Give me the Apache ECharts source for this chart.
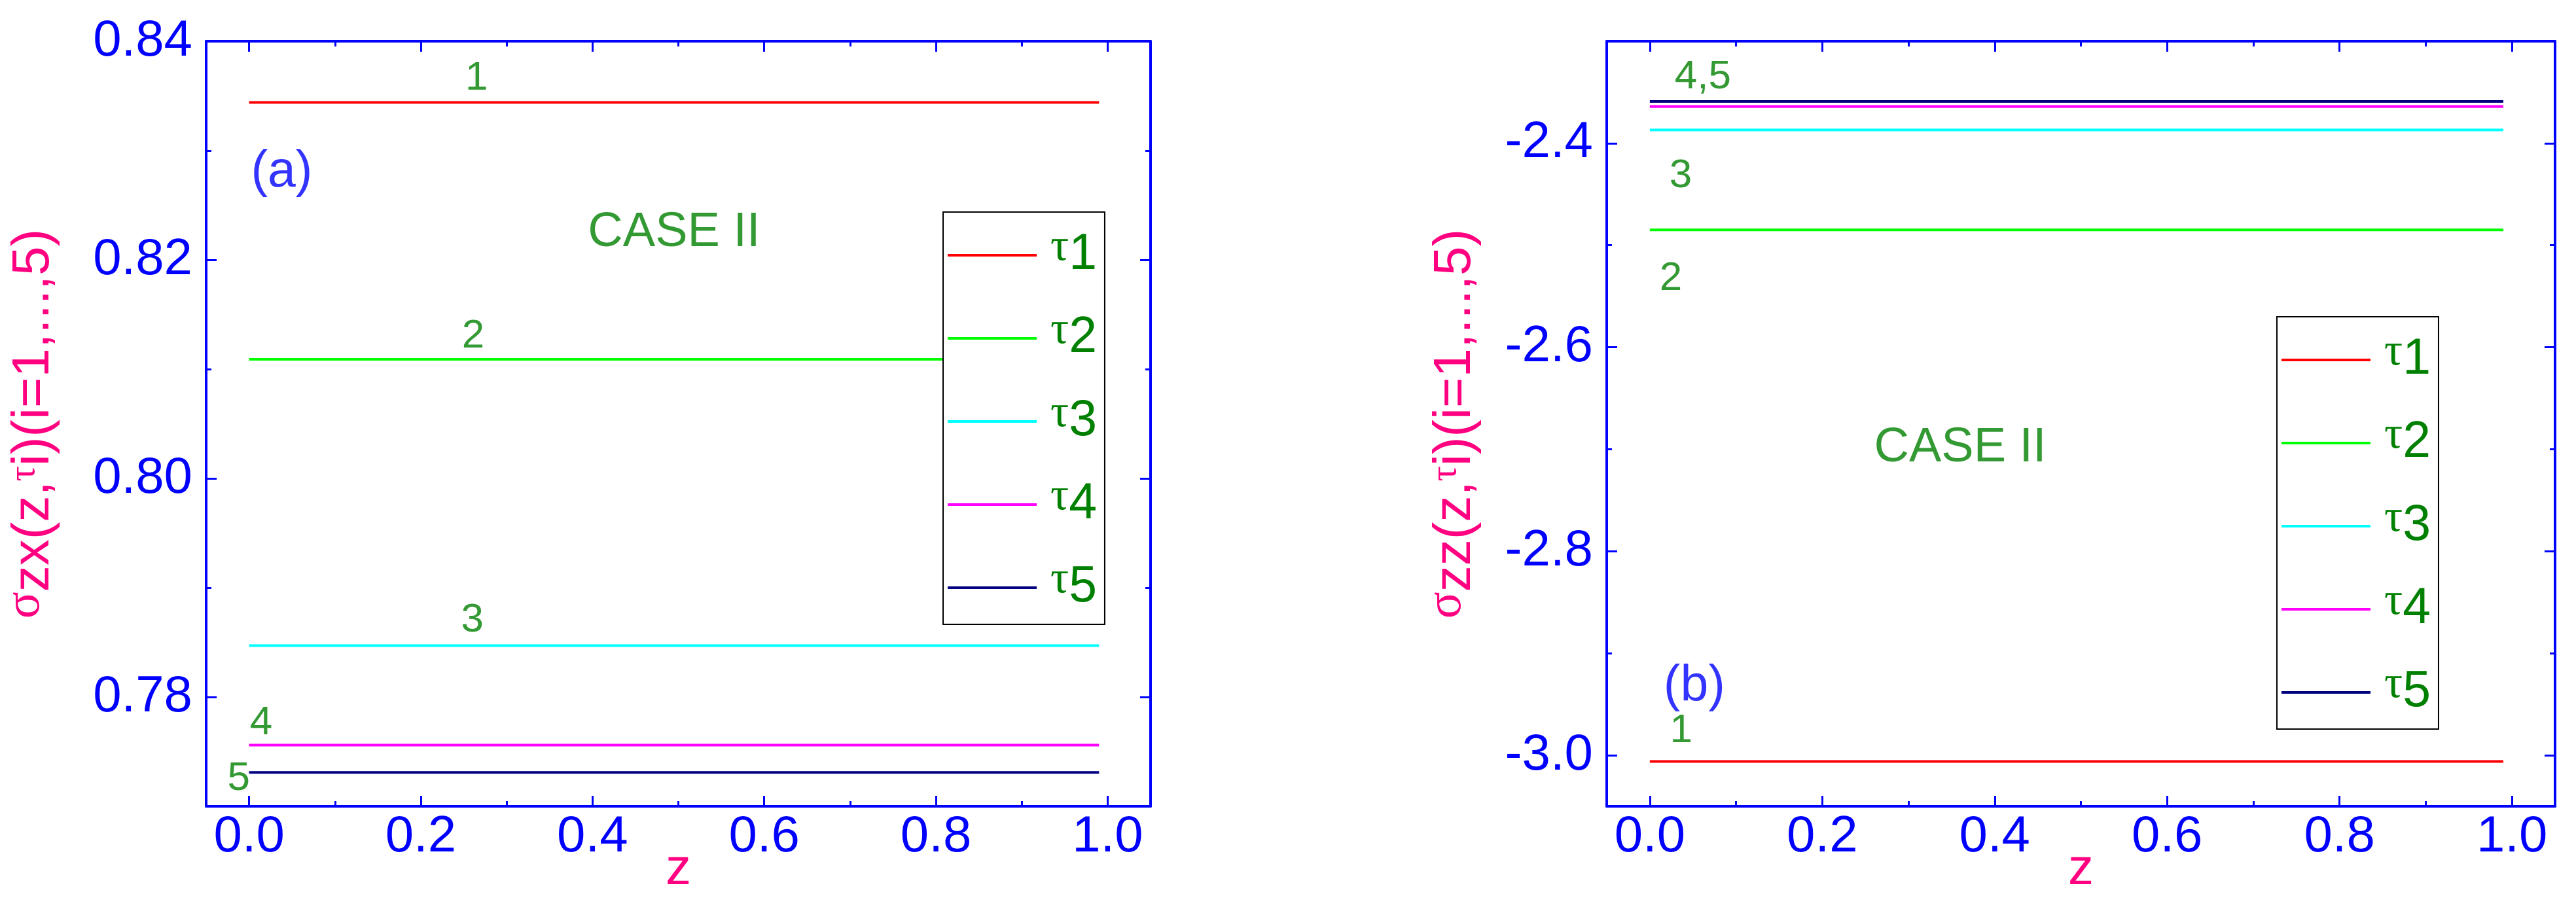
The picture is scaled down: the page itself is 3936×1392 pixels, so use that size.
<!DOCTYPE html>
<html>
<head>
<meta charset="utf-8">
<script src="https://cdn.jsdelivr.net/npm/echarts@6/dist/echarts.min.js"></script>
<style>
  html, body { margin: 0; padding: 0; background: #fff; }
  #main { width: 3936px; height: 1392px; }
</style>
</head>
<body>
<div id="main"></div>
<script>
// data
const seriesNames = ['τ1', 'τ2', 'τ3', 'τ4', 'τ5'];
const zPts = [0, 0.99];
const sigmaZX = [
  [0.8344, 0.8344],
  [0.8109, 0.8109],
  [0.7847, 0.7847],
  [0.7756, 0.7756],
  [0.7731, 0.7731]
];
const sigmaZZ = [
  [-3.006, -3.006],
  [-2.485, -2.485],
  [-2.387, -2.387],
  [-2.364, -2.364],
  [-2.359, -2.359]
];
// ticks
const xTicks = [0, 0.2, 0.4, 0.6, 0.8, 1.0];
const xMinor = [0.1, 0.3, 0.5, 0.7, 0.9];
const yTicksA = [0.78, 0.80, 0.82, 0.84];
const yMinorA = [0.77, 0.79, 0.81, 0.83];
const yTicksB = [-3.0, -2.8, -2.6, -2.4];
const yMinorB = [-2.9, -2.7, -2.5, -2.3];
// curve numbers and captions [z, value, text]
const notesA = [[0.265, 0.8366, '1'], [0.261, 0.8130, '2'], [0.260, 0.7870, '3'], [0.014, 0.7776, '4'], [-0.012, 0.7725, '5']];
const notesB = [[0.0615, -2.335, '4,5'], [0.0357, -2.432, '3'], [0.0243, -2.533, '2'], [0.0364, -2.976, '1']];
const tagA = [[0.038, 0.828, '(a)']];
const tagB = [[0.0516, -2.933, '(b)']];
const caseA = [[0.495, 0.8225, 'CASE II']];
const caseB = [[0.36, -2.699, 'CASE II']];

const colors = ['#ff0000', '#00ff00', '#00ffff', '#ff00ff', '#000080'];
const BLUE = '#0000ff';
const GREEN = '#008000';
const PINK = '#ff0080';
const FONT = '"Liberation Sans", Arial, sans-serif';
const SERIF = '"Liberation Serif", "DejaVu Serif", serif';

let chart = echarts.init(document.getElementById('main'), null, { renderer: 'canvas' });

function xAxes(gi) {
  const base = {
    gridIndex: gi, type: 'value', min: -0.05, max: 1.05,
    splitLine: { show: false }
  };
  return [
    Object.assign({}, base, {
      position: 'bottom',
      name: 'z', nameLocation: 'middle', nameGap: 58, nameMoveOverlap: false,
      nameTextStyle: { color: PINK, fontSize: 78, fontFamily: FONT },
      axisLine: { onZero: false, lineStyle: { color: BLUE, width: 4 } },
      axisTick: { inside: true, length: 16, customValues: xTicks, lineStyle: { color: BLUE, width: 3 } },
      axisLabel: { customValues: xTicks, formatter: v => v.toFixed(1), color: BLUE, fontSize: 78, fontFamily: FONT, margin: 8 }
    }),
    Object.assign({}, base, {
      position: 'bottom',
      axisLine: { show: false, onZero: false },
      axisTick: { inside: true, length: 8, customValues: xMinor, lineStyle: { color: BLUE, width: 3 } },
      axisLabel: { show: false }
    }),
    Object.assign({}, base, {
      position: 'top',
      axisLine: { onZero: false, lineStyle: { color: BLUE, width: 4 } },
      axisTick: { inside: true, length: 16, customValues: xTicks, lineStyle: { color: BLUE, width: 3 } },
      axisLabel: { show: false }
    }),
    Object.assign({}, base, {
      position: 'top',
      axisLine: { show: false, onZero: false },
      axisTick: { inside: true, length: 8, customValues: xMinor, lineStyle: { color: BLUE, width: 3 } },
      axisLabel: { show: false }
    })
  ];
}

function yAxes(gi, min, max, ticks, minor, digits, title, gap) {
  const base = {
    gridIndex: gi, type: 'value', min: min, max: max,
    splitLine: { show: false }
  };
  return [
    Object.assign({}, base, {
      position: 'left',
      name: title, nameLocation: 'middle', nameGap: gap,
      nameTextStyle: {
        color: PINK, fontSize: 80, fontFamily: FONT,
        rich: {
          n: { color: PINK, fontSize: 80, fontFamily: FONT },
          s: { color: PINK, fontSize: 76, fontFamily: SERIF, padding: [0, 0, 26, 0] },
          t: { color: PINK, fontSize: 58, fontFamily: SERIF, padding: [0, 0, 30, 0] }
        }
      },
      axisLine: { onZero: false, lineStyle: { color: BLUE, width: 4 } },
      axisTick: { inside: true, length: 16, customValues: ticks, lineStyle: { color: BLUE, width: 3 } },
      axisLabel: { customValues: ticks, formatter: v => v.toFixed(digits), color: BLUE, fontSize: 78, fontFamily: FONT, margin: 21 }
    }),
    Object.assign({}, base, {
      position: 'left',
      axisLine: { show: false, onZero: false },
      axisTick: { inside: true, length: 8, customValues: minor, lineStyle: { color: BLUE, width: 3 } },
      axisLabel: { show: false }
    }),
    Object.assign({}, base, {
      position: 'right',
      axisLine: { onZero: false, lineStyle: { color: BLUE, width: 4 } },
      axisTick: { inside: true, length: 16, customValues: ticks, lineStyle: { color: BLUE, width: 3 } },
      axisLabel: { show: false }
    }),
    Object.assign({}, base, {
      position: 'right',
      axisLine: { show: false, onZero: false },
      axisTick: { inside: true, length: 8, customValues: minor, lineStyle: { color: BLUE, width: 3 } },
      axisLabel: { show: false }
    })
  ];
}

function legendAt(left, top) {
  return {
    orient: 'vertical', left: left, top: top,
    data: seriesNames,
    icon: 'rect',
    itemWidth: 136, itemHeight: 4, itemGap: 35,
    padding: [20, 12, 10, 7],
    borderColor: '#000', borderWidth: 2,
    backgroundColor: '#fff',
    selectedMode: false,
    formatter: name => '{t|τ}{n|' + name.slice(1) + '}',
    textStyle: {
      padding: [0, 0, 0, 16], lineHeight: 80,
      rich: {
        t: { color: GREEN, fontSize: 70, fontFamily: SERIF, lineHeight: 80, padding: [0, 0, 22, 0] },
        n: { color: GREEN, fontSize: 77, fontFamily: FONT, lineHeight: 80 }
      }
    }
  };
}

function curves(gi, vals) {
  return seriesNames.map((name, i) => ({
    name: name, type: 'line',
    xAxisIndex: gi * 4, yAxisIndex: gi * 4,
    symbol: 'none', silent: true, animation: false,
    color: colors[i],
    lineStyle: { color: colors[i], width: 4 },
    data: zPts.map((z, k) => [z, vals[i][k]])
  }));
}

function notes(gi, list, color, size) {
  return {
    type: 'scatter', xAxisIndex: gi * 4, yAxisIndex: gi * 4,
    symbolSize: 1, silent: true, animation: false,
    itemStyle: { color: 'rgba(0,0,0,0)' },
    label: {
      show: true, position: 'inside',
      formatter: p => p.data[2],
      color: color, fontSize: size, fontFamily: FONT
    },
    data: list
  };
}

const titleA = '{s|σ}{n|zx(z,}{t|τ}{n|i)(i=1,...,5)}';
const titleB = '{s|σ}{n|zz(z,}{t|τ}{n|i)(i=1,...,5)}';

option = {
  backgroundColor: '#fff',
  animation: false,
  grid: [
    { left: 308, top: 63, width: 1450, height: 1169 },
    { left: 2455, top: 63, width: 1449, height: 1169 }
  ],
  legend: [legendAt(1441, 324), legendAt(3479, 484)],
  xAxis: xAxes(0).concat(xAxes(1)),
  yAxis: yAxes(0, 0.77, 0.84, yTicksA, yMinorA, 2, titleA, 212)
    .concat(yAxes(1, -3.05, -2.3, yTicksB, yMinorB, 1, titleB, 180)),
  series: curves(0, sigmaZX).concat(curves(1, sigmaZZ)).concat([
    notes(0, notesA, GREEN, 62),
    notes(1, notesB, GREEN, 62),
    notes(0, tagA, BLUE, 77),
    notes(1, tagB, BLUE, 77),
    notes(0, caseA, GREEN, 74),
    notes(1, caseB, GREEN, 74)
  ])
};

chart.setOption(option);
</script>
</body>
</html>
